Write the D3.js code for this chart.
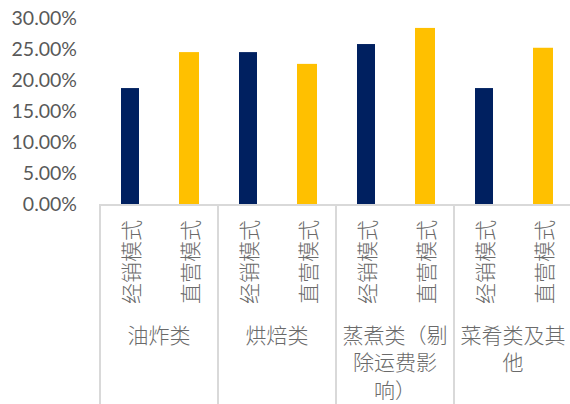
<!DOCTYPE html>
<html><head><meta charset="utf-8">
<script src="https://cdn.jsdelivr.net/npm/d3@7"></script>
<style>html,body{margin:0;padding:0;background:#fff;}svg{display:block;}</style>
</head><body>
<svg id="chart" width="570" height="404"></svg>
<script>
const groups = ["油炸类", "烘焙类", "蒸煮类（剔除运费影响）", "菜肴类及其他"];
const modes = ["经销模式", "直营模式"];
const distributorValues = [0.187, 0.245, 0.258, 0.187];
const directValues = [0.245, 0.226, 0.284, 0.252];
const yTicks = [0, 0.05, 0.10, 0.15, 0.20, 0.25, 0.30];
const colors = ["#002060", "#FFC000"];

(function () {
const svg = d3.select("#chart");
const pLeft = 100, pRight = 572, pTop = 18, pBottom = 204;

const x0 = d3.scaleBand().domain(groups).range([pLeft, pRight]).padding(0);
const x1 = d3.scaleBand().domain(modes).range([0, x0.bandwidth()]).padding(0);
const y = d3.scaleLinear().domain([0, 0.30]).range([pBottom, pTop]);
const barW = [18, 20];

// y axis labels
const yAxis = d3.axisLeft(y).tickValues(yTicks).tickSize(0).tickPadding(23)
  .tickFormat(d => (d * 100).toFixed(2) + "%");
const yg = svg.append("g").attr("transform", `translate(${pLeft},0)`).call(yAxis);
yg.select(".domain").remove();
yg.selectAll("text").attr("font-family", "Lato, 'Open Sans', sans-serif")
  .attr("font-size", 19.5).attr("fill", "#595959");

// bars
const data = groups.map((g, i) => ({g, vals: [distributorValues[i], directValues[i]]}));
const gg = svg.append("g").selectAll("g").data(data).join("g")
  .attr("transform", d => `translate(${x0(d.g)},0)`);
gg.selectAll("rect").data(d => d.vals.map((v, j) => ({v, j, m: modes[j]}))).join("rect")
  .attr("x", d => x1(d.m) + x1.bandwidth() / 2 - barW[d.j] / 2 + 0.5)
  .attr("width", d => barW[d.j])
  .attr("y", d => y(d.v))
  .attr("height", d => y(0) - y(d.v))
  .attr("fill", d => colors[d.j]);

// axis line and group separators
const lineColor = "#d9d9d9";
svg.append("line").attr("x1", pLeft).attr("x2", pRight).attr("y1", pBottom + 1).attr("y2", pBottom + 1)
  .attr("stroke", lineColor).attr("stroke-width", 2);
const seps = groups.map(g => x0(g)).concat([pRight]);
svg.append("g").selectAll("line").data(seps).join("line")
  .attr("x1", d => d).attr("x2", d => d).attr("y1", pBottom).attr("y2", 404)
  .attr("stroke", lineColor).attr("stroke-width", 2);

const cjk = "'Noto Sans CJK SC', sans-serif";
const labelColor = "#6a6a6a";
// sub labels (rotated)
groups.forEach(g => {
  modes.forEach(m => {
    const cx = x0(g) + x1(m) + x1.bandwidth() / 2 + 1.5;
    svg.append("text").text(m)
      .attr("transform", `translate(${cx},220) rotate(-90)`)
      .attr("text-anchor", "end").attr("dy", "0.36em")
      .attr("font-family", cjk).attr("font-size", 21).attr("font-weight", 300)
      .attr("fill", labelColor);
  });
});

// group labels with wrapping (max 5 chars, closing punctuation can't start a line)
function wrap(s, n) {
  const chars = Array.from(s), lines = [];
  let i = 0;
  while (i < chars.length) {
    let end = Math.min(i + n, chars.length);
    if (end < chars.length && /[）)，。、]/.test(chars[end])) end -= 1;
    lines.push(chars.slice(i, end).join(""));
    i = end;
  }
  return lines;
}
groups.forEach(g => {
  const lines = wrap(g, 5);
  const t = svg.append("text").attr("text-anchor", "middle")
    .attr("font-family", cjk).attr("font-size", 21).attr("font-weight", 300)
    .attr("fill", labelColor);
  lines.forEach((ln, k) => {
    t.append("tspan").attr("x", x0(g) + x0.bandwidth() / 2).attr("y", 335 + k * 27.5)
      .attr("dy", "0.36em").text(ln);
  });
});
})();
</script>
</body></html>
